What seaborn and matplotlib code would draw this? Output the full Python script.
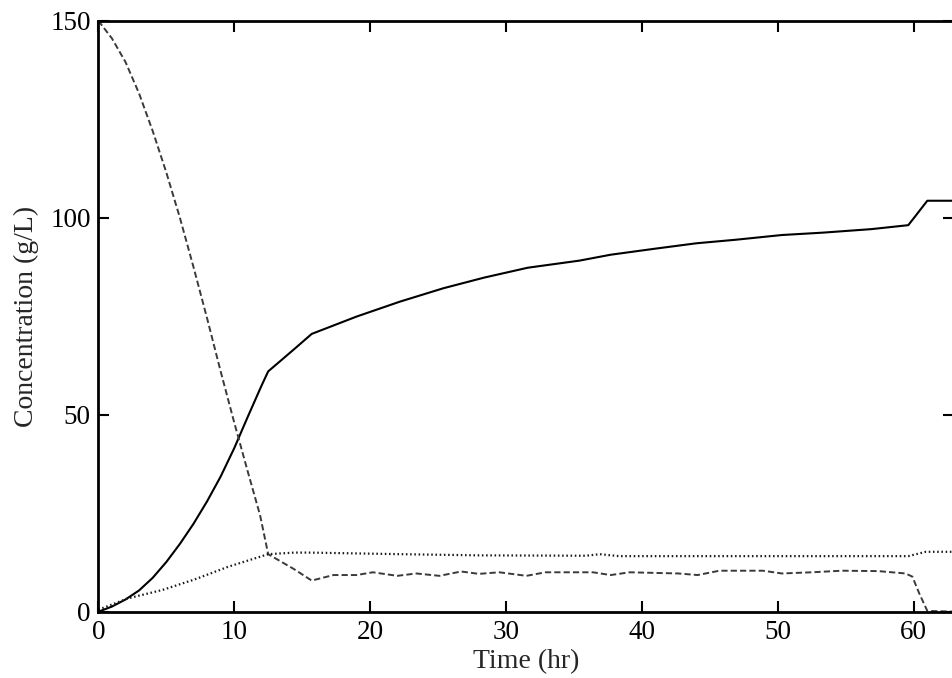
import matplotlib
matplotlib.use("Agg")
import matplotlib.pyplot as plt
import seaborn as sns

# product (solid)
time_p = [0, 1, 2, 3, 4, 5, 6, 7, 8, 9, 10, 11, 12, 12.5, 13.35, 14.4, 15.7,
          19.0, 22.2, 25.4, 28.4, 31.6, 35.4, 37.7, 40.9, 44.0, 46.9, 50.3, 53.3,
          56.9, 59.6, 60.1, 61.0, 63]
conc_p = [0, 1.3, 3.1, 5.4, 8.6, 12.6, 17.2, 22.3, 28.0, 34.3, 41.5, 49.5, 57.3, 61.0,
          63.5, 66.6, 70.5, 74.9, 78.7, 82.1, 84.8, 87.3, 89.1, 90.6, 92.1, 93.5, 94.4,
          95.6, 96.2, 97.1, 98.1, 100.3, 104.3, 104.3]

# substrate (dashed)
time_s = [0, 1, 2, 3, 4, 5, 6, 7, 8, 9, 10, 11, 11.9, 12.5,
          14.4, 15.7, 17.3, 19.0, 20.2, 22.0, 23.4, 25.1, 26.7, 28.0, 29.5, 31.5, 32.9,
          36.4, 37.7, 39.1, 42.7, 44.1, 45.7, 48.9, 50.3, 52.5, 54.7, 57.4, 59.4, 59.9,
          60.4, 61.0, 63]
conc_s = [150, 145.5, 139.5, 131.5, 122, 111.5, 100, 87.5, 74.5, 61, 48, 35.5, 24.5,
          14.6, 10.8, 7.9, 9.3, 9.3, 10.0, 9.1, 9.7, 9.1, 10.2, 9.6, 10.0, 9.1, 10.0,
          10.0, 9.3, 10.0, 9.7, 9.3, 10.4, 10.4, 9.7, 10.0, 10.4, 10.3, 9.7, 8.9,
          4.7, 0.2, 0]

# biomass (dotted)
time_x = [0, 2.2, 4.7, 7.1, 9.55, 12.5, 14.45, 15.5, 22.2, 28.0, 35.9, 36.9, 38.3,
          59.6, 60.9, 63]
conc_x = [0.5, 3.4, 5.5, 8.2, 11.4, 14.6, 15.0, 15.0, 14.6, 14.3, 14.2, 14.6, 14.1,
          14.1, 15.2, 15.2]

x_ticks = [0, 10, 20, 30, 40, 50, 60]
y_ticks = [0, 50, 100, 150]

sns.set_theme(style="ticks")
plt.rcParams["font.family"] = ["Liberation Serif", "DejaVu Sans"]

fig = plt.figure(figsize=(9.52, 6.78), dpi=100)
ax = fig.add_axes([0.1033, 0.0978, 0.8993, 0.8717])

sns.lineplot(x=time_p, y=conc_p, ax=ax, color="black", linewidth=1.5, sort=False)
sns.lineplot(x=time_s, y=conc_s, ax=ax, color="#3a3a3a", linewidth=1.4, sort=False)
ax.lines[-1].set_dashes((3.2, 1.6))
sns.lineplot(x=time_x, y=conc_x, ax=ax, color="#1a1a1a", linewidth=1.6, sort=False)
ax.lines[-1].set_dashes((0.7, 1.2))

ax.set_xlim(0, 63)
ax.set_ylim(0, 150)
ax.set_xticks(x_ticks)
ax.set_yticks(y_ticks)
ax.tick_params(direction="in", length=8, width=1.5, top=True, right=True,
               labelsize=19.5, colors="black")
ax.tick_params(axis="x", pad=6)
ax.tick_params(axis="y", pad=5.5)
for sp in ax.spines.values():
    sp.set_visible(True)
    sp.set_linewidth(2)
    sp.set_color("black")

ax.set_xlabel("Time (hr)", fontsize=20, labelpad=3)
ax.set_ylabel("Concentration (g/L)", fontsize=20, labelpad=8)

fig.savefig("out.png", dpi=100)
